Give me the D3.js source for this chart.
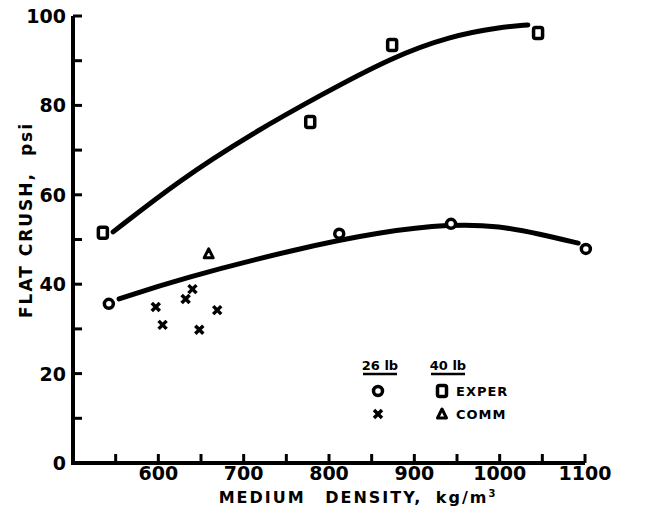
<!DOCTYPE html>
<meta charset="utf-8">
<title>flat crush</title>
<body>
<script src="https://cdn.jsdelivr.net/npm/d3@7"></script>
<style>
html, body {
    margin: 0;
    background: #fff;
}
svg text {
    font-family: "DejaVu Sans", sans-serif;
    font-weight: bold;
    fill: #000;
}
</style>
<script>
var width = 650,
    height = 517;

// tick values
var xTicks = [550, 600, 650, 700, 750, 800, 850, 900, 950, 1000, 1050, 1100],
    xLabels = [600, 700, 800, 900, 1000, 1100],
    yTicks = [10, 20, 30, 40, 50, 60, 70, 80, 90, 100],
    yLabels = [0, 20, 40, 60, 80, 100];

// 26 lb experimental (circles)
var exper26 = [[542, 35.6], [812, 51.3], [943, 53.5], [1101, 47.9]];
// 40 lb experimental (squares)
var exper40 = [[535, 51.5], [778, 76.3], [874, 93.5], [1045, 96.2]];
// 26 lb commercial (crosses)
var comm26 = [[597, 34.9], [605, 30.9], [632, 36.7], [640, 38.9], [648, 29.8], [669, 34.2]];
// 40 lb commercial (triangle)
var comm40 = [[659, 46.8]];

// hand-drawn fit curves
var curve40 = [[547, 51.7], [625, 63.3], [707, 73.4], [790, 82.3], [874, 90.8], [942, 95.5], [1001, 97.5], [1033, 98.0]];
var curve26 = [[554, 36.7], [625, 41.2], [766, 48.1], [860, 51.7], [943, 53.5], [1001, 53], [1047, 51.2], [1092, 49.2]];

var svg = d3.select("body").append("svg")
    .attr("width", width)
    .attr("height", height);

var x = d3.scaleLinear().domain([500, 1100]).range([73, 585]),
    y = d3.scaleLinear().domain([0, 100]).range([463, 16]);

// axes
svg.append("path")
    .attr("d", "M" + x(500) + "," + y(100) + "V" + y(0) + "H" + x(1100))
    .attr("fill", "none")
    .attr("stroke", "#000")
    .attr("stroke-width", 4);

svg.selectAll(".ytick").data(yTicks).enter().append("line")
    .attr("x1", x(500)).attr("x2", x(500) + 9)
    .attr("y1", y).attr("y2", y)
    .attr("stroke", "#000").attr("stroke-width", 3);

svg.selectAll(".xtick").data(xTicks).enter().append("line")
    .attr("x1", x).attr("x2", x)
    .attr("y1", y(0)).attr("y2", y(0) - 9)
    .attr("stroke", "#000").attr("stroke-width", 3);

svg.selectAll(".ylab").data(yLabels).enter().append("text")
    .attr("x", x(500) - 7)
    .attr("y", function(d) { return y(d) + 7; })
    .attr("text-anchor", "end")
    .style("font-size", "19px")
    .text(function(d) { return d; });

svg.selectAll(".xlab").data(xLabels).enter().append("text")
    .attr("x", x)
    .attr("y", y(0) + 17)
    .attr("text-anchor", "middle")
    .style("font-size", "19px")
    .text(function(d) { return d; });

svg.append("text")
    .attr("transform", "translate(32," + 220 + ") rotate(-90)")
    .attr("text-anchor", "middle")
    .style("font-size", "17px")
    .style("letter-spacing", "2px")
    .html("FLAT CRUSH, <tspan dx='8'>psi</tspan>");

svg.append("text")
    .attr("x", 358)
    .attr("y", 503)
    .attr("text-anchor", "middle")
    .style("font-size", "16px")
    .style("letter-spacing", "2px")
    .html("MEDIUM <tspan dx='12'>DENSITY,</tspan> <tspan dx='6'>kg/m</tspan><tspan dy='-6' style='font-size:10px'>3</tspan>");

// curves
var line = d3.line()
    .x(function(d) { return x(d[0]); })
    .y(function(d) { return y(d[1]); })
    .curve(d3.curveBasis);

[curve40, curve26].forEach(function(c) {
    svg.append("path")
        .attr("d", line(c))
        .attr("fill", "none")
        .attr("stroke", "#000")
        .attr("stroke-width", 5)
        .attr("stroke-linecap", "round");
});

// markers
function circleMark(g) {
    g.append("circle").attr("r", 4.5)
        .attr("fill", "#fff").attr("stroke", "#000").attr("stroke-width", 3.5);
}
function squareMark(g) {
    g.append("rect").attr("x", -4.5).attr("y", -5.5).attr("width", 9).attr("height", 11).attr("rx", 2)
        .attr("fill", "#fff").attr("stroke", "#000").attr("stroke-width", 3.5);
}
function crossMark(g) {
    g.append("path").attr("d", "M-4,-4L4,4M-4,4L4,-4")
        .attr("stroke", "#000").attr("stroke-width", 3.5);
}
function triMark(g) {
    g.append("path").attr("d", "M0,-5L4.5,4H-4.5Z")
        .attr("fill", "#fff").attr("stroke", "#000").attr("stroke-width", 3).attr("stroke-linejoin", "round");
}

function plot(data, mark) {
    svg.selectAll(null).data(data).enter().append("g")
        .attr("transform", function(d) { return "translate(" + [x(d[0]), y(d[1])] + ")"; })
        .each(function() { mark(d3.select(this)); });
}
plot(exper26, circleMark);
plot(exper40, squareMark);
plot(comm26, crossMark);
plot(comm40, triMark);

// legend
var lg = svg.append("g");
[["26 lb", 380], ["40 lb", 448]].forEach(function(d) {
    lg.append("text").attr("x", d[1]).attr("y", 370)
        .attr("text-anchor", "middle").style("font-size", "13px").text(d[0]);
    lg.append("line").attr("x1", d[1] - 17).attr("x2", d[1] + 17)
        .attr("y1", 374).attr("y2", 374).attr("stroke", "#000").attr("stroke-width", 2.5);
});
var legRows = [[circleMark, squareMark, "EXPER", 391], [crossMark, triMark, "COMM", 414]];
legRows.forEach(function(r) {
    r[0](lg.append("g").attr("transform", "translate(378," + r[3] + ")"));
    r[1](lg.append("g").attr("transform", "translate(442," + r[3] + ")"));
    lg.append("text").attr("x", 456).attr("y", r[3] + 5)
        .style("font-size", "13px").style("letter-spacing", "1px").text(r[2]);
});
</script>
